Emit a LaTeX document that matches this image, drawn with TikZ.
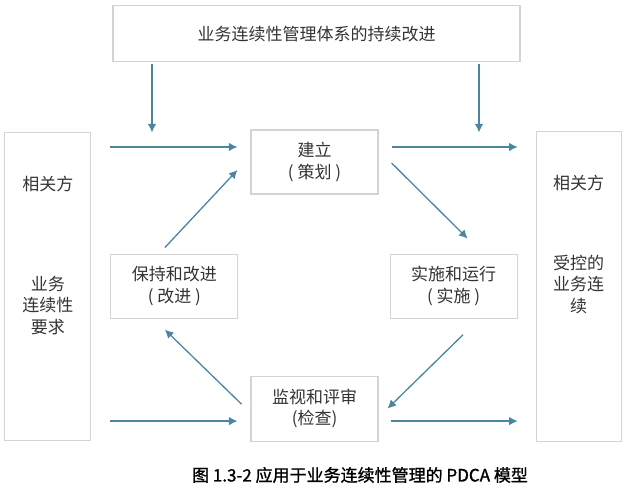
\documentclass[tikz,border=0pt]{standalone}
\usepackage{fontspec}
\setmainfont{Noto Sans CJK SC}
\newfontfamily\capfont[FakeBold=1.2]{Noto Sans CJK SC}
\usepackage{tikz}
\usetikzlibrary{positioning, calc, arrows.meta}
\usepackage{xcolor}
\definecolor{flowblue}{HTML}{4B86A0}
\definecolor{edgegray}{HTML}{D4D4D4}
\definecolor{txtgray}{HTML}{333333}

\begin{document}
\begin{tikzpicture}[
    x=1bp, y=1bp,
    box/.style={draw=edgegray, line width=1.1bp, minimum width=127bp, minimum height=64bp, align=center, inner sep=0pt, text=txtgray, font=\fontsize{17bp}{21.5bp}\selectfont},
    side/.style={box, minimum width=86bp, minimum height=308bp},
    txt/.style={align=center, inner sep=0pt, text=txtgray, font=\fontsize{17bp}{21.5bp}\selectfont},
    arr/.style={-{Latex[length=8.5bp, width=8.5bp]}, line width=1.3bp, draw=flowblue},
    caption/.style={inner sep=0pt, text=black, font=\capfont\fontsize{17bp}{20bp}\selectfont}
]
\useasboundingbox (0,0) rectangle (632,493);

% PDCA boxes
\node[box] (plan) at (314.5,331) {建立\\( 策划 )};
\node[box, below left=59bp and 12bp of plan] (improve) {保持和改进\\( 改进 )};
\node[box, below right=59bp and 11bp of plan] (do) {实施和运行\\( 实施 )};
\node[box, below=181bp of plan, minimum height=65bp] (check) {监视和评审\\(检查)};

% Interested parties
\node[side, left=19bp of improve] (party) {};
\node[side, right=18bp of do, minimum width=85bp, minimum height=310bp] (out) {};
\node[txt] (partyA) at ([yshift=-52bp]party.north) {相关方};
\node[txt] (partyB) at ([yshift=-174bp]party.north) {业务\\连续性\\要求};
\node[txt] (outA) at ([yshift=-52bp]out.north) {相关方};
\node[txt] (outB) at ([yshift=-153.5bp]out.north) {受控的\\业务连\\续};

% Continual improvement
\node[box, above=67bp of plan, xshift=2bp, minimum width=407bp, minimum height=56bp] (title) {业务连续性管理体系的持续改进};

% Down arrows
\coordinate (dnL) at ([xshift=-164.5bp, yshift=-2bp]title.south);
\coordinate (dnR) at ([xshift=162.5bp, yshift=-2bp]title.south);
\coordinate (planTop) at ([yshift=-3bp]plan.north);
\draw[arr] (dnL) -- (dnL |- planTop);
\draw[arr] (dnR) -- (dnR |- planTop);

% Inputs and outputs
\coordinate (topRow) at ([yshift=15bp]plan.west);
\coordinate (botRow) at ([yshift=-12.5bp]check.west);
\draw[arr, shorten <=19bp, shorten >=13bp] (topRow -| party.east) -- (topRow -| plan.west);
\draw[arr, shorten <=13bp, shorten >=18bp] (topRow -| plan.east) -- (topRow -| out.west);
\draw[arr, shorten <=19bp, shorten >=13bp] (botRow -| party.east) -- (botRow -| check.west);
\draw[arr, shorten <=12bp, shorten >=18bp] (botRow -| check.east) -- (botRow -| out.west);

% Cycle
\draw[arr] ([xshift=13bp, yshift=-1bp]plan.east) -- ([xshift=14bp, yshift=15bp]do.north);
\draw[arr] ([xshift=9.5bp, yshift=-16bp]do.south) -- ([xshift=9bp]check.east);
\draw[arr] ([xshift=-9bp, yshift=4.5bp]check.west) -- ([xshift=-9.5bp, yshift=-11bp]improve.south);
\draw[arr] ([xshift=-9.5bp, yshift=6bp]improve.north) -- ([xshift=-13bp, yshift=-8bp]plan.west);

% Caption
\node[caption] (cap) at (360,18) {图 1.3-2 应用于业务连续性管理的 PDCA 模型};

\end{tikzpicture}
\end{document}
